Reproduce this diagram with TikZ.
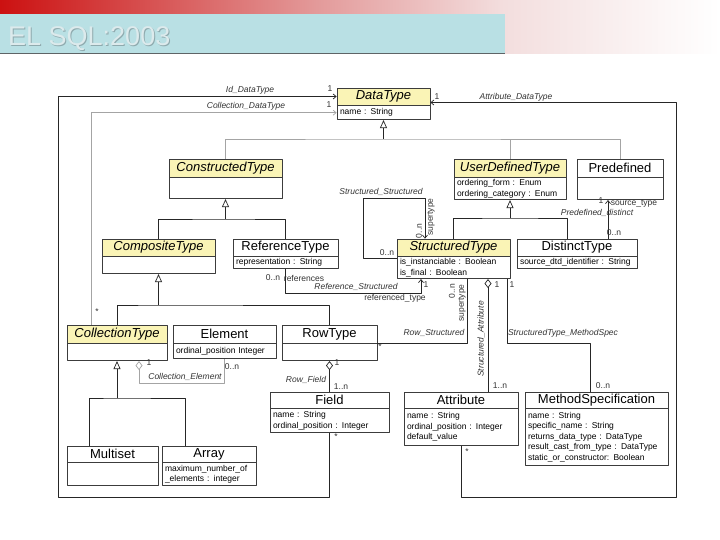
\documentclass[tikz,border=0pt]{standalone}
\usepackage{fontspec}
\setmainfont{Liberation Sans}
\usepackage{xcolor}
\usepackage{tikz}
\usetikzlibrary{arrows.meta,positioning}
\definecolor{bred}{HTML}{CC1111}
\definecolor{bpink}{HTML}{E39A9A}
\definecolor{bpale}{HTML}{F3DEDE}
\definecolor{bcyan}{HTML}{B9E0E4}
\definecolor{bline}{HTML}{5E6466}
\definecolor{ttlc}{HTML}{DCEAEC}
\definecolor{ttld}{HTML}{8FAAAE}
\definecolor{absfill}{HTML}{FAF4B6}
\definecolor{boxln}{HTML}{3C3C3C}
\definecolor{lnc}{HTML}{262626}
\definecolor{lnl}{HTML}{A4A4A4}
\definecolor{lblc}{HTML}{333333}
\pgfdeclarehorizontalshading{banner}{100bp}{color(0bp)=(bred); color(25bp)=(bred); color(47bp)=(bpink); color(60bp)=(bpale); color(75bp)=(white); color(100bp)=(white)}
\tikzset{fig/.style={line join=round,>=Stealth},
  ttl/.style={anchor=base west,inner sep=0pt,font=\fontsize{27}{30}\selectfont,text=ttlc},
  cbox/.style={draw=boxln,line width=0.7pt,inner sep=0pt},
  cname/.style={cbox,fill=white,font=\fontsize{13}{15}\selectfont},
  abstr/.style={cname,fill=absfill,font=\fontsize{13}{15}\selectfont\itshape},
  attrs/.style={cbox,fill=white,inner xsep=3pt,align=left,font=\fontsize{8.5}{10.5}\selectfont},
  lbl/.style={inner sep=0pt,text=lblc,font=\fontsize{8.5}{10}\selectfont},
  alab/.style={lbl,font=\fontsize{8.5}{10}\selectfont\itshape},
  con/.style={draw=lnc,line width=0.7pt},
  conl/.style={draw=lnl,line width=0.7pt},
  gen/.style={con,-{Triangle[open,length=8pt,width=7pt]}},
  nav/.style={con,-{Straight Barb[length=3pt,width=5pt]}},
  navl/.style={conl,-{Straight Barb[length=3pt,width=5pt]}},
  agg/.style={con,{Diamond[open,length=9pt,width=7pt]}-},
  aggl/.style={conl,{Diamond[open,length=9pt,width=7pt]}-}}
\begin{document}
\begin{tikzpicture}[fig,x=1pt,y=-1pt]
  \useasboundingbox(0,0)rectangle(720,540);
  \fill[white](0,0)rectangle(720,540);
  \shade[shading=banner](0,0)rectangle(720,54);
  \fill[bcyan](0,14)rectangle(505,53);
  \draw[bline,line width=1.4pt](0,53.3)--(505,53.3);
  \node[ttl,text=ttld](ttls)at(9,47){EL SQL:2003};
  \node[ttl](ttl)at(8,46){EL SQL:2003};

  \node[abstr,minimum width=93pt,minimum height=17pt](dt)at(383.5,96.5){DataType};
  \node[attrs,minimum width=93pt,text width=87pt,minimum height=14pt,below=0pt of dt](dta){name : String};
  \node[abstr,minimum width=113pt,minimum height=18pt](ct)at(225.5,168){ConstructedType};
  \node[attrs,minimum width=113pt,text width=107pt,minimum height=21pt,below=0pt of ct](cta){};
  \node[abstr,minimum width=112pt,minimum height=18pt](udt)at(510,168){UserDefinedType};
  \node[attrs,minimum width=112pt,text width=106pt,minimum height=22pt,below=0pt of udt](udta){ordering\_form : Enum\\ordering\_category : Enum};
  \node[cname,minimum width=86pt,minimum height=18pt](pd)at(620,168){Predefined};
  \node[attrs,minimum width=86pt,text width=80pt,minimum height=22pt,below=0pt of pd](pda){};
  \node[abstr,minimum width=113pt,minimum height=17pt](cpt)at(158.5,247.5){CompositeType};
  \node[attrs,minimum width=113pt,text width=107pt,minimum height=17pt,below=0pt of cpt](cpta){};
  \node[cname,minimum width=105pt,minimum height=17pt](rt)at(285.5,247.5){ReferenceType};
  \node[attrs,minimum width=105pt,text width=99pt,minimum height=12pt,below=0pt of rt](rta){representation : String};
  \node[abstr,minimum width=113pt,minimum height=17pt](st)at(453.5,247.5){StructuredType};
  \node[attrs,minimum width=113pt,text width=107pt,minimum height=22pt,below=0pt of st](sta){is\_instanciable : Boolean\\is\_final : Boolean};
  \node[cname,minimum width=120pt,minimum height=17pt](dst)at(577,247.5){DistinctType};
  \node[attrs,minimum width=120pt,text width=114pt,minimum height=12pt,below=0pt of dst](dsta){source\_dtd\_identifier : String};
  \node[abstr,minimum width=100pt,minimum height=18pt](colt)at(117,334){CollectionType};
  \node[attrs,minimum width=100pt,text width=94pt,minimum height=17pt,below=0pt of colt](colta){};
  \node[cname,minimum width=103pt,minimum height=18pt](el)at(224.5,334){Element};
  \node[attrs,minimum width=103pt,text width=97pt,minimum height=15pt,below=0pt of el](ela){ordinal\_position Integer};
  \node[cname,minimum width=95pt,minimum height=18pt](rwt)at(329.5,334){RowType};
  \node[attrs,minimum width=95pt,text width=89pt,minimum height=17pt,below=0pt of rwt](rwta){};
  \node[cname,minimum width=91pt,minimum height=16pt](ms)at(112.5,454){Multiset};
  \node[attrs,minimum width=91pt,text width=85pt,minimum height=23pt,below=0pt of ms](msa){};
  \node[cname,minimum width=94pt,minimum height=16pt](arr)at(209,454){Array};
  \node[attrs,minimum width=94pt,text width=88pt,minimum height=23pt,below=0pt of arr](arra){maximum\_number\_of\\\_elements : integer};
  \node[cname,minimum width=119pt,minimum height=16pt](fld)at(329.5,400){Field};
  \node[attrs,minimum width=119pt,text width=113pt,minimum height=24pt,below=0pt of fld](flda){name : String\\ordinal\_position : Integer};
  \node[cname,minimum width=114pt,minimum height=16pt](att)at(461,400){Attribute};
  \node[attrs,minimum width=114pt,text width=108pt,minimum height=37pt,below=0pt of att](atta){name : String\\ordinal\_position : Integer\\default\_value};
  \node[cname,minimum width=143pt,minimum height=16pt](msp)at(596.5,400){MethodSpecification};
  \node[attrs,minimum width=143pt,text width=137pt,minimum height=57pt,below=0pt of msp](mspa){name : String\\specific\_name : String\\returns\_data\_type : DataType\\result\_cast\_from\_type : DataType\\static\_or\_constructor: Boolean};

  \coordinate(jd)at(383.5,139);\coordinate(jc)at(225.5,219);\coordinate(jp)at(158.5,305);
  \coordinate(ju)at(510,218);\coordinate(jk)at(117,398);
  \draw[conl](ct.north)|-(jd)-|(pd.north);\draw[conl](udt.north)--(udt.north|-jd);\draw[gen](jd)--(dta.south);
  \draw[con](cpt.north)|-(jc)-|(rt.north);\draw[gen](jc)--(cta.south);
  \draw[con](colt.north)|-(jp)-|(rwt.north);\draw[gen](jp)--(cpta.south);
  \draw[con](st.north)|-(ju)-|([xshift=-10pt]dst.north);\draw[gen](ju)--(udta.south);
  \draw[con]([xshift=-23.5pt]ms.north)|-(jk)-|([xshift=-24pt]arr.north);\draw[gen](jk)--(colta.south);

  \coordinate(cid)at(58,497);\coordinate(cad)at(676,497);\coordinate(css)at(363,198);
  \draw[nav](flda.south)|-(cid)|-(dt.west);
  \draw[nav](atta.south)|-(cad)|-([yshift=-6pt]dt.east);
  \draw[navl]([xshift=-26pt]colt.north)|-(dta.west);
  \draw[nav](rta.south)--++(0,24)-|([xshift=-32.5pt]sta.south);
  \draw[nav]([yshift=-10.5pt]st.west)-|(css)-|([xshift=-28.5pt]st.north);
  \draw[con](rwt.south east)-|([xshift=13.5pt]sta.south);
  \draw[agg]([xshift=34.5pt]sta.south)--([xshift=27pt]att.north);
  \draw[con]([xshift=53.5pt]sta.south)--++(0,64)-|([xshift=-6.5pt]msp.north);
  \draw[nav]([xshift=31pt]dst.north)--([xshift=-12pt]pda.south);
  \draw[aggl]([xshift=22pt]colta.south)--++(0,22)-|(ela.south);
  \draw[agg](rwta.south)--(fld.north);

  \node[alab](lid)at(250,90){Id\_DataType};\node[lbl](lidm)at(330,89){1};
  \node[alab](lcd)at(246,106){Collection\_DataType};\node[lbl](lcdm)at(329,105){1};
  \node[alab](lad)at(516,97){Attribute\_DataType};\node[lbl](ladm)at(437,97){1};
  \node[lbl](lfm)at(336,437){*};\node[lbl](lam)at(467,452){*};\node[lbl](lcm)at(97,312){*};
  \node[alab](lss)at(381,192){Structured\_Structured};\node[lbl](lssm)at(387,253){0..n};
  \node[lbl,rotate=90](lssn)at(419,231){0..n};\node[lbl,rotate=90](lsss)at(431,217){supertype};
  \node[lbl](lrsm)at(273,278){0..n};\node[lbl](lrsr)at(304,278){references};
  \node[alab](lrs)at(356,287){Reference\_Structured};\node[lbl](lrst)at(395,298){referenced\_type};
  \node[lbl](lrso)at(426,285){1};
  \node[lbl,rotate=90](lrwn)at(452,291){0..n};\node[lbl,rotate=90](lrws)at(462,303){supertype};
  \node[alab](lrw)at(434,333){Row\_Structured};\node[lbl](lrwm)at(380,347){*};
  \node[lbl](lsao)at(497,285){1};\node[alab,rotate=90](lsa)at(481,339){Structured\_Attribute};
  \node[lbl](lsam)at(500,386){1..n};
  \node[lbl](lsmo)at(512,285){1};\node[alab](lsm)at(563,333){StructuredType\_MethodSpec};
  \node[lbl](lsmm)at(603,386){0..n};
  \node[lbl](lpdo)at(601,201){1};\node[lbl](lpdt)at(634,204){source\_type};
  \node[alab](lpd)at(597,213){Predefined\_distinct};\node[lbl](lpdm)at(614,233){0..n};
  \node[lbl](lceo)at(149,363){1};\node[lbl](lcem)at(232,367){0..n};
  \node[alab](lce)at(185,377){Collection\_Element};
  \node[lbl](lrfo)at(337,363){1};\node[alab](lrf)at(306,380){Row\_Field};\node[lbl](lrfm)at(341,387){1..n};
\end{tikzpicture}
\end{document}
